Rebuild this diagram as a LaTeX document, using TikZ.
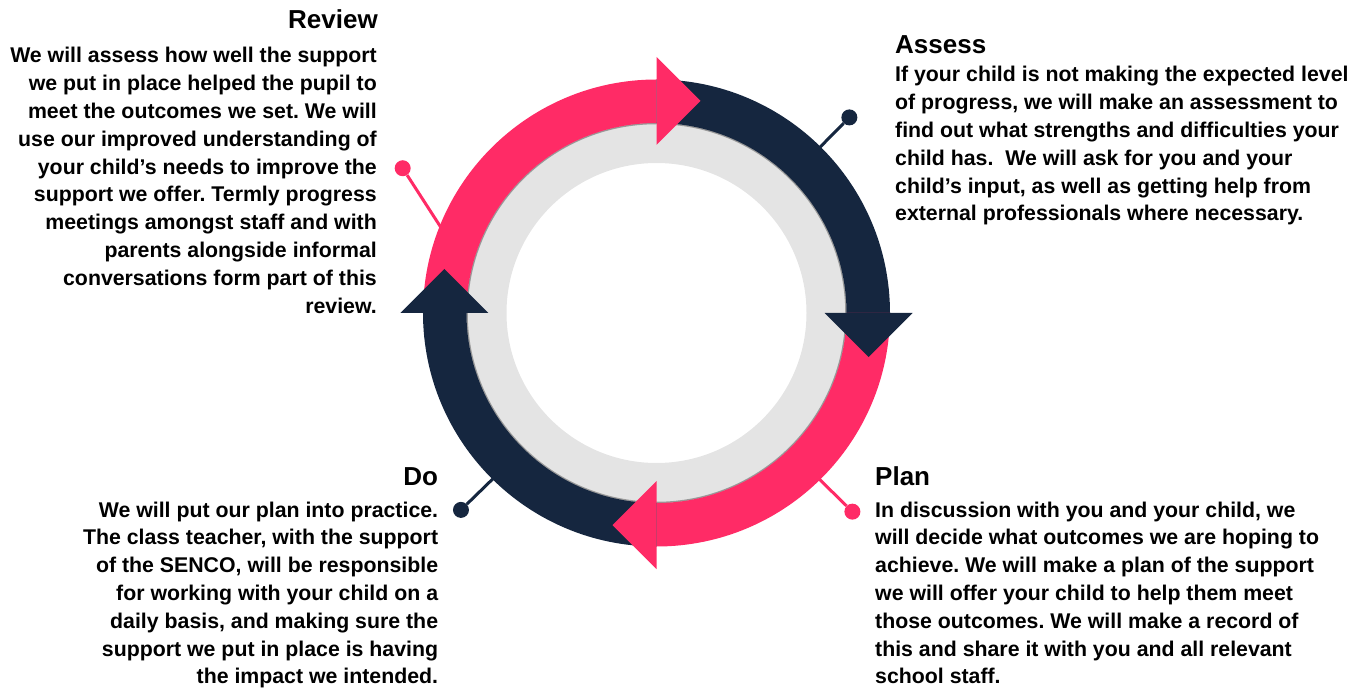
\documentclass[tikz,border=0pt]{standalone}
\usepackage{fontspec}
\setmainfont{Liberation Sans}
\frenchspacing
\definecolor{pinkc}{HTML}{FF2B66}
\definecolor{navyc}{HTML}{15263F}
\definecolor{ringgray}{HTML}{E4E4E4}
\tikzset{
  steptitle/.style={font=\bfseries\fontsize{26}{30}\selectfont, inner sep=0pt},
  steptext/.style={font=\bfseries\fontsize{21.3}{27.8}\selectfont, inner sep=0pt},
  pindot/.style={circle, inner sep=0pt, minimum size=16pt},
  pinline/.style={line width=3pt}
}
\begin{document}
\begin{tikzpicture}[x=1pt,y=1pt]
      \useasboundingbox (-656.5,-377) rectangle (707.5,313);
      \node[pindot, fill=navyc] (assessdot) at (45.4:274.7) {};
      \node[pindot, fill=pinkc] (reviewdot) at (150.3:292.2) {};
      \node[pindot, fill=navyc] (dodot) at (225.2:277.5) {};
      \node[pindot, fill=pinkc] (plandot) at (-45.4:279) {};
      \coordinate (assessend) at (45.4:230);
      \coordinate (reviewend) at (158.7:230);
      \coordinate (doend) at (225.4:230);
      \coordinate (planend) at (-45.6:230);
      \draw[pinline, navyc] (assessdot) -- (assessend);
      \draw[pinline, pinkc] (reviewdot) -- (reviewend);
      \draw[pinline, navyc] (dodot) -- (doend);
      \draw[pinline, pinkc] (plandot) -- (planend);
      \fill[ringgray, even odd rule] (0,0) circle (190) (0,0) circle (150);
      \draw[black!40, line width=1.5pt] (0,0) circle (189.5);
      \foreach \a/\c in {90/pinkc, 0/navyc, -90/pinkc, 180/navyc} {
        \pgfmathsetmacro{\b}{\a+90}
        \fill[\c] (\b:233.5) arc[start angle=\b, end angle=\a, radius=233.5]
          -- (\a:190) arc[start angle=\a, end angle=\b, radius=190] -- cycle;
      }
      \foreach \a/\c in {90/pinkc, 0/navyc, -90/pinkc, 180/navyc} {
        \fill[\c, rotate=\a] (168,0) -- (256,0) -- (212,-44) -- cycle;
      }
      \node[steptitle, anchor=base east] (reviewtitle) at (-278.5,284) {Review};
      \node[steptext, align=right, anchor=base east] (reviewtext) at (-279.5,-0.2)
        {We will assess how well the support\\
         we put in place helped the pupil to\\
         meet the outcomes we set. We will\\
         use our improved understanding of\\
         your child’s needs to improve the\\
         support we offer. Termly progress\\
         meetings amongst staff and with\\
         parents alongside informal\\
         conversations form part of this\\
         review.};
      \node[steptitle, anchor=base west] (assesstitle) at (238.5,259.7) {Assess};
      \node[steptext, align=left, anchor=base west] (assesstext) at (238.5,92)
        {If your child is not making the expected level\\
         of progress, we will make an assessment to\\
         find out what strengths and difficulties your\\
         child has.\ \ We will ask for you and your\\
         child’s input, as well as getting help from\\
         external professionals where necessary.};
      \node[steptitle, anchor=base west] (plantitle) at (218.5,-172) {Plan};
      \node[steptext, align=left, anchor=base west] (plantext) at (218.5,-370.8)
        {In discussion with you and your child, we\\
         will decide what outcomes we are hoping to\\
         achieve. We will make a plan of the support\\
         we will offer your child to help them meet\\
         those outcomes. We will make a record of\\
         this and share it with you and all relevant\\
         school staff.};
      \node[steptitle, anchor=base east] (dotitle) at (-218.2,-172) {Do};
      \node[steptext, align=right, anchor=base east] (dotext) at (-218.2,-370.8)
        {We will put our plan into practice.\\
         The class teacher, with the support\\
         of the SENCO, will be responsible\\
         for working with your child on a\\
         daily basis, and making sure the\\
         support we put in place is having\\
         the impact we intended.};
\end{tikzpicture}
\end{document}
